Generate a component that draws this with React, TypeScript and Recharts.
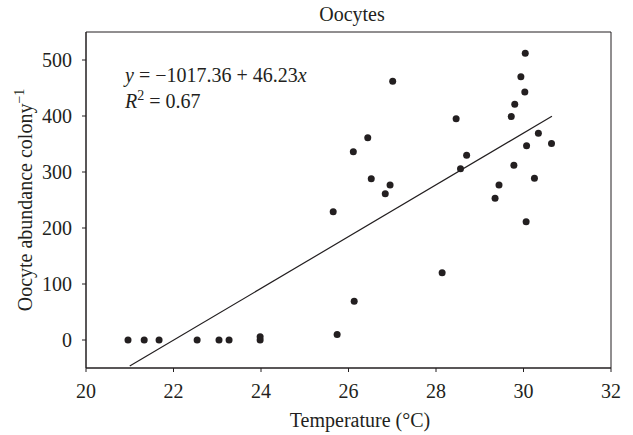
import { ComposedChart, Scatter, XAxis, YAxis, ReferenceArea } from 'recharts';

// Oocyte abundance vs water temperature
const temperature = [
  20.96, 21.33, 21.67, 22.54, 23.04, 23.27, 23.98, 23.98, 25.65, 25.74, 26.11, 26.13,
  26.44, 26.52, 26.84, 26.95, 27.01, 28.14, 28.46, 28.56, 28.7, 29.35, 29.44, 29.72,
  29.78, 29.8, 29.94, 30.03, 30.04, 30.06, 30.07, 30.25, 30.34, 30.64,
];
const oocytes = [
  0, 0, 0, 0, 0, 0, 0, 6, 229, 10, 336, 69,
  361, 288, 261, 277, 462, 120, 395, 306, 330, 253, 277, 399,
  312, 421, 470, 443, 512, 211, 347, 289, 369, 351,
];

// linear fit y = a + b x, drawn over the observed temperature span
const intercept = -1017.36;
const slope = 46.23;
const fitRange = [21.0, 30.65];

const xTicks = [20, 22, 24, 26, 28, 30, 32];
const yTicks = [0, 100, 200, 300, 400, 500];

const points = temperature.map((t, i) => ({ x: t, y: oocytes[i] }));
const fitLine = fitRange.map((t) => ({ x: t, y: intercept + slope * t }));

const INK = '#231f20';
const serif = { fontFamily: 'Liberation Serif', fontSize: 20, fill: INK };

const Dot = (props: any) => <circle cx={props.cx} cy={props.cy} r={3.5} fill={INK} />;
const NoDot = () => <g />;

const XTick = (props: any) => (
  <text x={props.x} y={props.y} dy={13} textAnchor="middle" {...serif}>
    {props.payload.value}
  </text>
);
const YTick = (props: any) => (
  <text x={props.x} y={props.y} dy={7} textAnchor="end" {...serif}>
    {props.payload.value}
  </text>
);

export default function App() {
  return (
    <div style={{ position: 'absolute', left: 0, top: 0, width: 633, height: 435, background: '#fff' }}>
      <ComposedChart
        width={633}
        height={435}
        margin={{ top: 32, right: 22, bottom: 27, left: 0 }}
      >
        <XAxis
          type="number"
          dataKey="x"
          domain={[20, 32]}
          ticks={xTicks}
          allowDataOverflow
          height={40}
          tickSize={4}
          tickMargin={13}
          stroke={INK}
          tick={XTick}
        />
        <YAxis
          type="number"
          dataKey="y"
          domain={[-50, 550]}
          ticks={yTicks}
          allowDataOverflow
          width={86}
          tickSize={4}
          tickMargin={10}
          stroke={INK}
          tick={YTick}
        />
        <ReferenceArea x1={20} x2={32} y1={-50} y2={550} fill="none" stroke={INK} strokeWidth={1} />
        <Scatter
          data={fitLine}
          line={{ stroke: INK, strokeWidth: 1.2 }}
          shape={NoDot}
          isAnimationActive={false}
        />
        <Scatter data={points} shape={Dot} isAnimationActive={false} />
      </ComposedChart>
      <svg
        width={633}
        height={435}
        style={{ position: 'absolute', left: 0, top: 0, pointerEvents: 'none' }}
      >
        <text x={352} y={21} textAnchor="middle" {...serif}>Oocytes</text>
        <text x={125} y={82} {...serif}>
          <tspan fontStyle="italic">y</tspan> = −1017.36 + 46.23<tspan fontStyle="italic">x</tspan>
        </text>
        <text x={125} y={108} {...serif}>
          <tspan fontStyle="italic">R</tspan>
          <tspan dy={-8} fontSize={14}>2</tspan>
          <tspan dy={8}> = 0.67</tspan>
        </text>
        <text x={360} y={427} textAnchor="middle" {...serif}>Temperature (°C)</text>
        <text transform="translate(32, 200) rotate(-90)" textAnchor="middle" {...serif}>
          Oocyte abundance colony<tspan dy={-8} fontSize={14}>−1</tspan>
        </text>
      </svg>
    </div>
  );
}
